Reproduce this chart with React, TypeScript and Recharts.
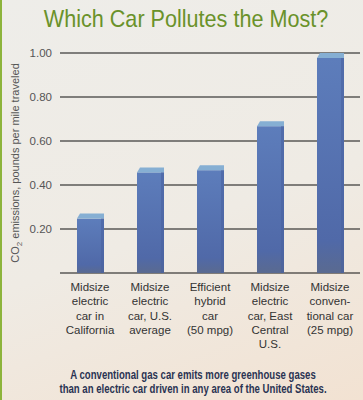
import { Bar, BarChart, CartesianGrid, XAxis, YAxis } from "recharts"

const categories = [
  ["Midsize", "electric", "car in", "California"],
  ["Midsize", "electric", "car, U.S.", "average"],
  ["Efficient", "hybrid", "car", "(50 mpg)"],
  ["Midsize", "electric", "car, East", "Central", "U.S."],
  ["Midsize", "conven-", "tional car", "(25 mpg)"],
]
const emissions = [0.27, 0.48, 0.49, 0.69, 1.0]
const yTicks = [0.2, 0.4, 0.6, 0.8, 1.0]
const noteLines = [
  "A conventional gas car emits more greenhouse gases",
  "than an electric car driven in any area of the United States.",
]

const data = categories.map((lines, i) => ({ name: lines.join(" "), lines, value: emissions[i] }))

const sans = "'Liberation Sans', Arial, sans-serif"

function CategoryTick(props: any) {
  const { x, y, index } = props
  const lines = categories[index] || []
  return (
    <text x={x} y={y + 10} textAnchor="middle" fill="#333" fontSize={11.5} fontFamily={sans}>
      {lines.map((l, i) => (
        <tspan key={i} x={x} dy={i === 0 ? 0 : 14.3}>
          {l}
        </tspan>
      ))}
    </text>
  )
}

function Column(props: any) {
  const { x, y, width, height } = props
  const cap = 5
  return (
    <g>
      <rect x={x} y={y + cap} width={width} height={height - cap} fill="url(#barFill)" />
      <polygon
        points={`${x},${y + cap} ${x + 3},${y} ${x + width},${y} ${x + width},${y + cap}`}
        fill="#86afd3"
      />
      <rect x={x + width - 3} y={y + cap} width={3} height={height - cap} fill="#4a63a0" opacity={0.6} />
    </g>
  )
}

export default function App() {
  return (
    <div
      style={{
        position: "absolute",
        left: 0,
        top: 0,
        width: 363,
        height: 400,
        overflow: "hidden",
        background: "linear-gradient(160deg, #eeede9 0%, #efebe4 55%, #f2e2d2 100%)",
        borderLeft: "2px solid #8db43c",
        boxSizing: "border-box",
      }}
    >
      <div style={{ position: "absolute", left: -2, top: 0 }}>
        <BarChart width={363} height={400} data={data} margin={{ top: 53, right: 3, bottom: 0, left: 0 }}>
          <defs>
            <linearGradient id="barFill" x1="0" y1="0" x2="0" y2="1">
              <stop offset="0%" stopColor="#5d7dbb" />
              <stop offset="85%" stopColor="#5069a8" />
              <stop offset="100%" stopColor="#5a6a90" />
            </linearGradient>
          </defs>
          <CartesianGrid vertical={false} stroke="#111" strokeWidth={1.2} />
          <XAxis
            dataKey="name"
            height={127}
            axisLine={false}
            tickLine={false}
            interval={0}
            tick={<CategoryTick />}
          />
          <YAxis
            width={60}
            domain={[0, 1]}
            ticks={yTicks}
            axisLine={false}
            tickLine={false}
            tickFormatter={(v) => v.toFixed(2)}
            tick={{ fill: "#555", fontSize: 11.5, fontFamily: sans }}
          />
          <Bar dataKey="value" barSize={27} shape={<Column />} isAnimationActive={false} />
        </BarChart>
      </div>
      <svg
        width={363}
        height={400}
        style={{ position: "absolute", left: -2, top: 0, pointerEvents: "none" }}
      >
        <text
          transform="translate(186,27) scale(0.9,1)"
          textAnchor="middle"
          fontFamily={sans}
          fontSize={24}
          fill="#6a922a"
        >
          Which Car Pollutes the Most?
        </text>
        <text
          transform="translate(19,163) rotate(-90)"
          textAnchor="middle"
          fontFamily={sans}
          fontSize={11}
          fill="#555"
        >
          CO<tspan fontSize={8} dy={3}>2</tspan>
          <tspan dy={-3}> emissions, pounds per mile traveled</tspan>
        </text>
        <text
          transform="translate(193,379) scale(0.8,1)"
          textAnchor="middle"
          fontFamily={sans}
          fontWeight="bold"
          fontSize={12}
          fill="#2a3352"
        >
          {noteLines[0]}
        </text>
        <text
          transform="translate(193,393) scale(0.8,1)"
          textAnchor="middle"
          fontFamily={sans}
          fontWeight="bold"
          fontSize={12}
          fill="#2a3352"
        >
          {noteLines[1]}
        </text>
      </svg>
    </div>
  )
}
